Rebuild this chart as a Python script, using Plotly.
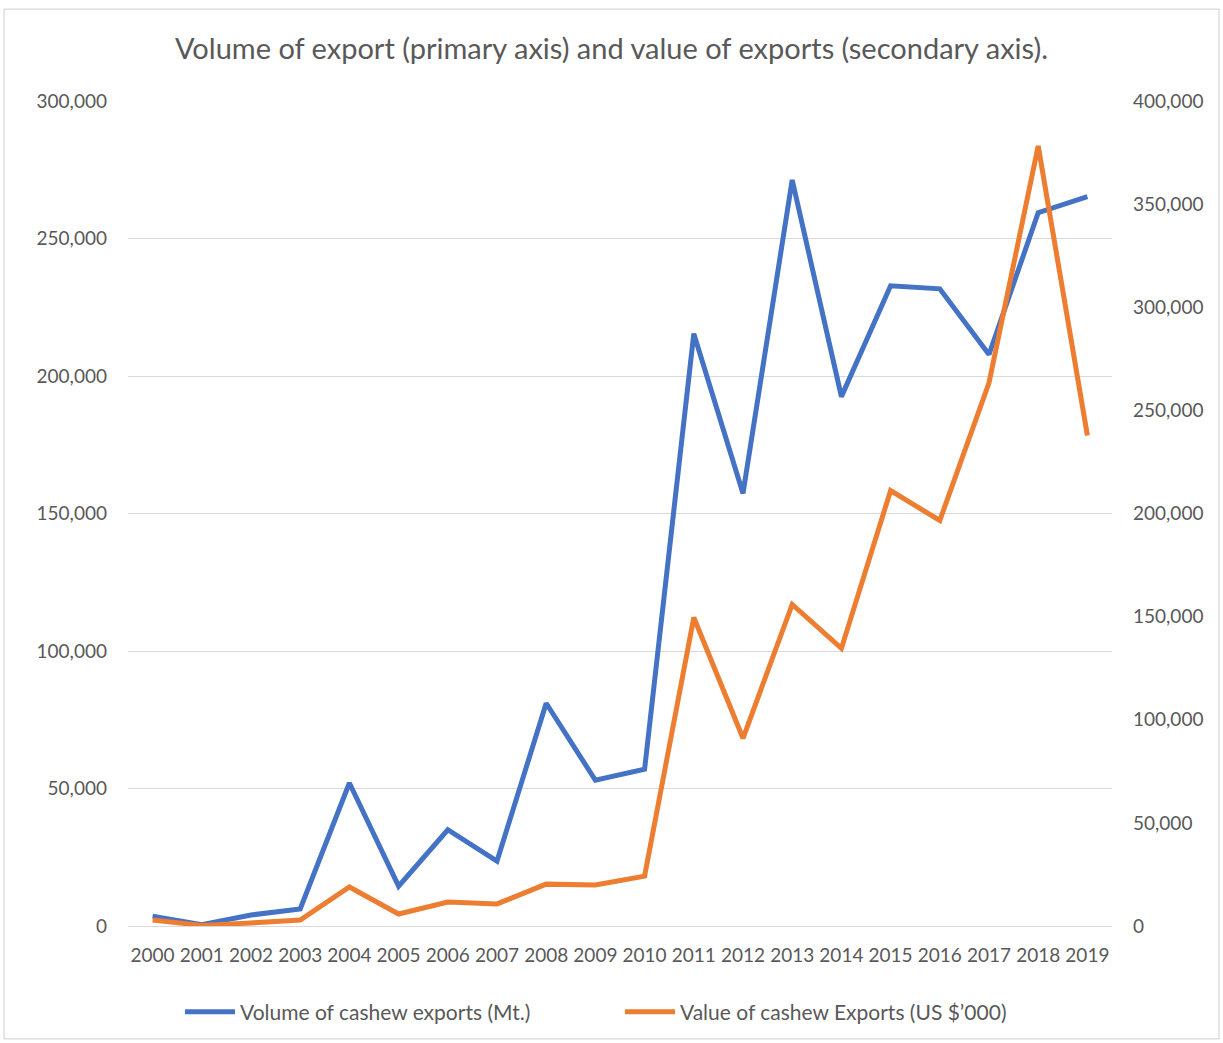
import plotly.graph_objects as go

years = [str(y) for y in range(2000, 2020)]
volume_mt = [3600, 500, 4000, 6200, 52000, 14500, 35000, 23600, 81000, 53000,
             57000, 215400, 157300, 271300, 192500, 232800, 231700, 207800, 259400, 265200]
value_usd_k = [2900, 300, 1500, 2900, 18900, 5800, 11600, 10700, 20300, 19900,
               24200, 149600, 91000, 155900, 134600, 211100, 196600, 263400, 378200, 237800]

font_family = "Lato, 'Open Sans', sans-serif"
txt = "#595959"

fig = go.Figure()
fig.add_trace(go.Scatter(x=years, y=volume_mt, mode="lines",
                         name="Volume of cashew exports (Mt.)",
                         line=dict(color="#4472C4", width=5)))
fig.add_trace(go.Scatter(x=years, y=value_usd_k, mode="lines",
                         name="Value of cashew Exports (US $\u2019000)",
                         line=dict(color="#ED7D31", width=5), yaxis="y2"))

fig.update_layout(
    width=1223, height=1043,
    margin=dict(l=128, r=111, t=101, b=116),
    paper_bgcolor="white", plot_bgcolor="white",
    font=dict(family=font_family, color=txt, size=19),
    title=dict(text="Volume of export (primary axis) and value of exports (secondary axis).",
               x=0.5, xanchor="center", y=1 - 49 / 1043, yanchor="middle",
               font=dict(size=29, color=txt, family=font_family)),
    xaxis=dict(type="category", range=[-0.5, 19.5], showgrid=False, ticks="",
               showline=False, ticklabelstandoff=16,
               tickfont=dict(size=19, color=txt)),
    yaxis=dict(range=[0, 300000], dtick=50000, tickformat=",", showgrid=True,
               gridcolor="#D9D9D9", gridwidth=1.3, zeroline=True, zerolinecolor="#D9D9D9",
               zerolinewidth=1.3, ticks="", ticklabelstandoff=20,
               tickfont=dict(size=19, color=txt)),
    yaxis2=dict(range=[0, 400000], dtick=50000, tickformat=",", overlaying="y",
                side="right", showgrid=False, zeroline=False, ticks="",
                ticklabelstandoff=20, tickfont=dict(size=19, color=txt)),
    legend=dict(orientation="h", x=0.5, xanchor="center", y=-(1012 - 927) / 826,
                yanchor="middle", font=dict(size=21, color=txt),
                traceorder="normal", itemwidth=50, entrywidth=375,
                entrywidthmode="pixels"),
    showlegend=True,
)

fig.add_shape(type="rect", xref="paper", yref="paper",
              x0=(4 - 128) / 984, x1=(1219 - 128) / 984,
              y0=(927 - 1040) / 826, y1=(927 - 9) / 826,
              line=dict(color="#D9D9D9", width=1.3), layer="below")

fig.write_html("out.html")
